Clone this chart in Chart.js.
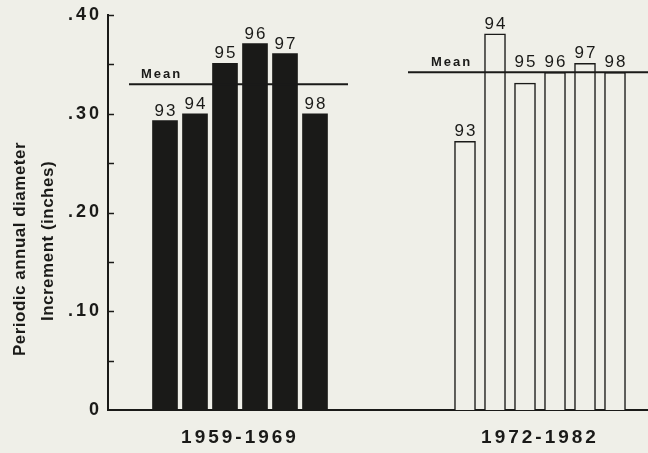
<!DOCTYPE html>
<html>
<head>
<meta charset="utf-8">
<title>Periodic annual diameter increment</title>
<script src="https://cdn.jsdelivr.net/npm/chart.js@4.4.1/dist/chart.umd.min.js"></script>
<style>
  html, body { margin: 0; padding: 0; background: #efefe8; }
  #wrap { width: 648px; height: 453px; position: relative; }
</style>
</head>
<body>
<div id="wrap"><canvas id="chart"></canvas></div>
<script>
// ── Data ─────────────────────────────────────────────────────────────
const diameterClasses = ['93', '94', '95', '96', '97', '98'];
const periods         = ['1959-1969', '1972-1982'];
const increment1959   = [0.293, 0.300, 0.351, 0.371, 0.361, 0.300];
const increment1972   = [0.272, 0.381, 0.331, 0.342, 0.351, 0.342];
const periodMeans     = [0.330, 0.342];
const yTickLabels     = ['0', '.10', '.20', '.30', '.40'];

// ── Layout / style ───────────────────────────────────────────────────
const INK   = '#1a1a18';
const PAPER = '#efefe8';
const FONT  = '"Liberation Sans", Arial, sans-serif';
const GROUP_START  = [0, 10];                 // first slot of each period
const MEAN_SPAN    = [[-1.2, 6.1], [8.1, 16.1]];
const MEAN_TEXT_DX = [12, 23];

function slots(values, g) {
    return values.map((v, i) => ({ x: GROUP_START[g] + i, y: v }));
}

function meanLine(g) {
    return MEAN_SPAN[g].map(x => ({ x: x, y: periodMeans[g] }));
}

// ── Labels, inward ticks, axis title ─────────────────────────────────
const decorations = {
    id: 'decorations',
    beforeDraw(chart) {
        chart.ctx.letterSpacing = '3px';
    },
    afterDatasetsDraw(chart) {
        const { ctx, scales: { x, y } } = chart;
        ctx.save();
        ctx.fillStyle = INK;
        ctx.textBaseline = 'alphabetic';

        [0, 1].forEach(function (g) {
            const meanY = y.getPixelForValue(periodMeans[g]);

            ctx.font = '17px ' + FONT;
            ctx.letterSpacing = '2px';
            ctx.textAlign = 'center';
            chart.getDatasetMeta(g).data.forEach(function (bar, i) {
                let base = bar.y;
                if (bar.y > meanY - 1 && bar.y - meanY < 20) base = meanY;
                ctx.fillText(diameterClasses[i], bar.x + 1, base - 5);
            });

            ctx.font = 'bold 13px ' + FONT;
            ctx.letterSpacing = '2px';
            ctx.textAlign = 'left';
            ctx.fillText('Mean', x.getPixelForValue(MEAN_SPAN[g][0]) + MEAN_TEXT_DX[g], meanY - 6);
        });
        ctx.restore();
    },
    afterDraw(chart) {
        const { ctx, scales: { y }, chartArea } = chart;
        ctx.save();
        ctx.strokeStyle = INK;
        ctx.lineWidth = 1.5;
        y.ticks.forEach(function (t) {
            if (t.value <= 0) return;
            const py = Math.round(y.getPixelForValue(t.value)) + 0.5;
            ctx.beginPath();
            ctx.moveTo(chartArea.left, py);
            ctx.lineTo(chartArea.left + 6, py);
            ctx.stroke();
        });

        ctx.fillStyle = INK;
        ctx.font = 'bold 17px ' + FONT;
        ctx.letterSpacing = '0.5px';
        ctx.textAlign = 'center';
        ctx.textBaseline = 'middle';
        [['Periodic annual diameter', 20, 249], ['Increment (inches)', 48, 241]].forEach(function (l) {
            ctx.save();
            ctx.translate(l[1], l[2]);
            ctx.rotate(-Math.PI / 2);
            ctx.fillText(l[0], 0, 0);
            ctx.restore();
        });
        ctx.restore();
    }
};

new Chart(document.getElementById('chart'), {
    type: 'bar',
    data: {
        datasets: [
            {
                label: periods[0],
                data: slots(increment1959, 0),
                backgroundColor: INK,
                borderWidth: 0,
                barThickness: 25,
                grouped: false,
                order: 2
            },
            {
                label: periods[1],
                data: slots(increment1972, 1),
                backgroundColor: PAPER,
                borderColor: INK,
                borderWidth: 1.5,
                barThickness: 21,
                grouped: false,
                order: 2
            },
            {
                type: 'line',
                label: 'Mean ' + periods[0],
                data: meanLine(0),
                borderColor: INK,
                borderWidth: 2,
                pointRadius: 0,
                fill: false,
                order: 1
            },
            {
                type: 'line',
                label: 'Mean ' + periods[1],
                data: meanLine(1),
                borderColor: INK,
                borderWidth: 2,
                pointRadius: 0,
                fill: false,
                order: 1
            }
        ]
    },
    options: {
        responsive: true,
        maintainAspectRatio: false,
        animation: false,
        layout: { padding: { top: 12, left: 0, right: 0, bottom: 0 } },
        plugins: {
            legend: { display: false },
            tooltip: { enabled: false }
        },
        scales: {
            x: {
                type: 'linear',
                min: -1.9,
                max: 16.1,
                offset: false,
                grid: { display: false, drawTicks: false },
                border: { display: true, color: INK, width: 2 },
                afterBuildTicks: function (s) {
                    const mid = (diameterClasses.length - 1) / 2;
                    s.ticks = periods.map((p, g) => ({ value: GROUP_START[g] + mid }));
                },
                afterFit: function (s) { s.height = 43; },
                ticks: {
                    autoSkip: false,
                    maxRotation: 0,
                    padding: 16,
                    color: INK,
                    font: { family: FONT, size: 19, weight: 'bold' },
                    callback: (value, index) => periods[index]
                }
            },
            y: {
                min: 0,
                max: 0.4,
                grid: { display: false, drawTicks: false },
                border: { display: true, color: INK, width: 2 },
                afterFit: function (s) { s.width = 108; },
                ticks: {
                    stepSize: 0.05,
                    autoSkip: false,
                    padding: 6,
                    color: INK,
                    font: { family: FONT, size: 18, weight: 'bold', lineHeight: 1 },
                    callback: function (v) {
                        const k = Math.round(v * 100);
                        return k % 10 === 0 ? yTickLabels[k / 10] : '';
                    }
                }
            }
        }
    },
    plugins: [decorations]
});
</script>
</body>
</html>
